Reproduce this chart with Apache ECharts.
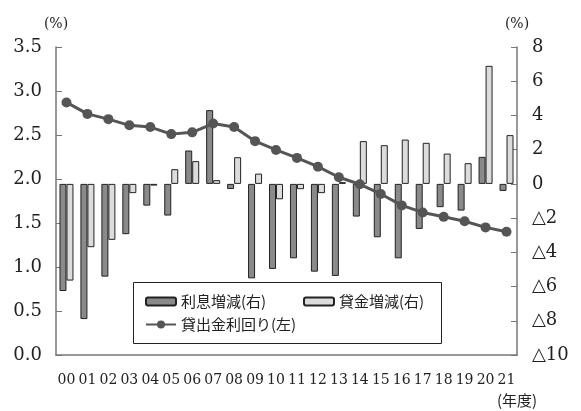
<!DOCTYPE html>
<html>
<head>
<meta charset="utf-8">
<script src="https://cdn.jsdelivr.net/npm/echarts@6/dist/echarts.min.js"></script>
<style>
  html, body { margin: 0; padding: 0; background: #fff; }
  #chart { width: 581px; height: 411px; }
</style>
</head>
<body>
<div id="chart"></div>
<script>
// 年度
var years = ['00', '01', '02', '03', '04', '05', '06', '07', '08', '09', '10',
             '11', '12', '13', '14', '15', '16', '17', '18', '19', '20', '21'];
// 利息増減(右) %
var interestChange = [-6.26, -7.9, -5.42, -2.94, -1.27, -1.85, 1.95, 4.31, -0.3, -5.52, -4.97,
                      -4.35, -5.13, -5.38, -1.91, -3.12, -4.35, -2.63, -1.36, -1.56, 1.58, -0.41];
// 貸金増減(右) %
var loanChange = [-5.65, -3.7, -3.27, -0.54, -0.1, 0.86, 1.33, 0.22, 1.56, 0.6, -0.9,
                  -0.31, -0.54, 0.1, 2.5, 2.26, 2.59, 2.4, 1.77, 1.21, 6.9, 2.85];
// 貸出金利回り(左) %
var lendingYield = [2.87, 2.74, 2.68, 2.61, 2.59, 2.51, 2.53, 2.63, 2.59, 2.43, 2.33,
                    2.24, 2.14, 2.02, 1.94, 1.83, 1.70, 1.62, 1.57, 1.52, 1.45, 1.40];

var serif = 'DejaVu Serif';
var cjk = 'Noto Sans CJK JP';

var myChart = echarts.init(document.getElementById('chart'));

var option = {
    animation: false,
    backgroundColor: '#fff',
    grid: {
        left: 56,
        right: 64,
        top: 47,
        bottom: 56
    },
    legend: [{
        left: 145,
        top: 294,
        padding: 0,
        itemWidth: 30,
        itemHeight: 8,
        textStyle: {fontFamily: cjk, fontSize: 15, color: '#222'},
        data: ['利息増減(右)']
    }, {
        left: 303,
        top: 294,
        padding: 0,
        itemWidth: 30,
        itemHeight: 8,
        textStyle: {fontFamily: cjk, fontSize: 15, color: '#222'},
        data: ['貸金増減(右)']
    }, {
        left: 145,
        top: 317,
        padding: 0,
        itemWidth: 30,
        itemHeight: 10,
        textStyle: {fontFamily: cjk, fontSize: 15, color: '#222'},
        data: ['貸出金利回り(左)']
    }],
    graphic: [{
        type: 'rect',
        shape: {x: 133.5, y: 282.5, width: 308, height: 61},
        style: {fill: 'none', stroke: '#222', lineWidth: 1}
    }, {
        type: 'text',
        x: 517,
        y: 400,
        style: {
            text: '(年度)',
            fontFamily: cjk,
            fontSize: 15,
            fill: '#222',
            align: 'center',
            verticalAlign: 'middle'
        }
    }],
    xAxis: {
        type: 'category',
        data: years,
        boundaryGap: true,
        axisLine: {lineStyle: {color: '#777', width: 1.5}},
        axisTick: {inside: true, length: 6, lineStyle: {color: '#777'}},
        axisLabel: {
            interval: 0,
            margin: 18,
            fontFamily: serif,
            fontSize: 14,
            color: '#222'
        }
    },
    yAxis: [{
        type: 'value',
        min: 0,
        max: 3.5,
        interval: 0.5,
        position: 'left',
        name: '(%)',
        nameLocation: 'end',
        nameGap: 16,
        nameTextStyle: {fontFamily: serif, fontSize: 14, color: '#222', align: 'center'},
        splitLine: {show: false},
        axisLine: {show: true, lineStyle: {color: '#777', width: 1.5}},
        axisTick: {show: true, inside: true, length: 6, lineStyle: {color: '#777'}},
        axisLabel: {
            margin: 14,
            fontFamily: serif,
            fontSize: 18,
            color: '#222',
            formatter: function (v) { return v.toFixed(1); }
        }
    }, {
        type: 'value',
        min: -10,
        max: 8,
        interval: 2,
        position: 'right',
        name: '(%)',
        nameLocation: 'end',
        nameGap: 16,
        nameTextStyle: {fontFamily: serif, fontSize: 14, color: '#222', align: 'center'},
        splitLine: {show: false},
        axisLine: {show: true, lineStyle: {color: '#777', width: 1.5}},
        axisTick: {show: true, inside: true, length: 6, lineStyle: {color: '#777'}},
        axisLabel: {
            margin: 15,
            fontFamily: serif,
            fontSize: 18,
            color: '#222',
            formatter: function (v) { return v < 0 ? '△' + (-v) : String(v); }
        }
    }],
    series: [{
        name: '利息増減(右)',
        type: 'bar',
        yAxisIndex: 1,
        barWidth: 7,
        barGap: '0%',
        itemStyle: {color: '#8a8a8a', borderColor: '#222', borderWidth: 1},
        data: interestChange
    }, {
        name: '貸金増減(右)',
        type: 'bar',
        yAxisIndex: 1,
        barWidth: 7,
        barGap: '0%',
        itemStyle: {color: '#dcdcdc', borderColor: '#222', borderWidth: 1},
        data: loanChange
    }, {
        name: '貸出金利回り(左)',
        type: 'line',
        yAxisIndex: 0,
        symbol: 'circle',
        symbolSize: 10,
        z: 5,
        lineStyle: {color: '#555', width: 3},
        itemStyle: {color: '#555'},
        data: lendingYield
    }]
};

myChart.setOption(option);
</script>
</body>
</html>
